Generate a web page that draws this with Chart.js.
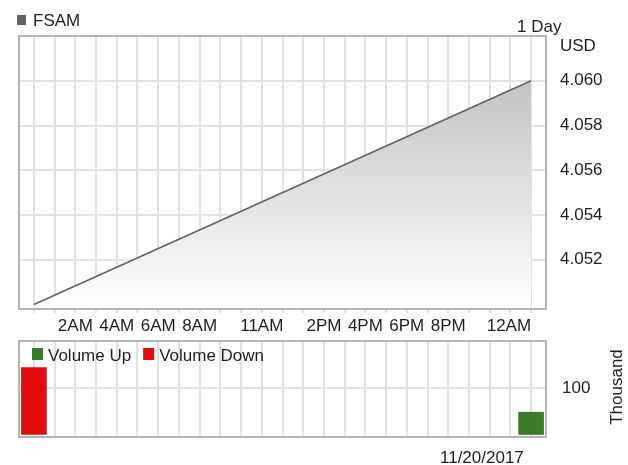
<!DOCTYPE html>
<html>
<head>
<meta charset="utf-8">
<script src="https://cdn.jsdelivr.net/npm/chart.js@4.4.1/dist/chart.umd.min.js"></script>
<style>
  html, body { margin: 0; padding: 0; background: #ffffff; }
  #wrap { position: relative; width: 628px; height: 465px; overflow: hidden; }
  #price { position: absolute; left: 0; top: 0; }
  #volume { position: absolute; left: 0; top: 340px; }
</style>
</head>
<body>
<div id="wrap">
  <canvas id="price" width="628" height="340"></canvas>
  <canvas id="volume" width="628" height="125"></canvas>
</div>
<script>
// ---- chart data ----
const symbol = 'FSAM';
const periodLabel = '1 Day';
const currency = 'USD';
const sessionDate = '11/20/2017';
const volumeUnit = 'Thousand';

// intraday price: hours after midnight -> price (USD)
const priceHours = [0, 24];
const priceValues = [4.050, 4.060];
const priceTicks = [4.052, 4.054, 4.056, 4.058, 4.060];

// labelled hours on the time axis
const labelHours = [2, 4, 6, 8, 11, 14, 16, 18, 20, 24];
const labelTexts = ['2AM', '4AM', '6AM', '8AM', '11AM', '2PM', '4PM', '6PM', '8PM', '12AM'];

// volume in thousands of shares
const volumeUpHours = [24];
const volumeUpValues = [48];
const volumeDownHours = [0];
const volumeDownValues = [144];
const volumeTicks = [100];

// ---- styling ----
const FONT = "'Liberation Sans', Arial, Helvetica, sans-serif";
const TEXT = '#1e1e1e';
const GRID = '#e2e2e2';
const FRAME = '#b4b4b4';
const LINE = '#626262';
const UP = '#3a7b2b';
const DOWN = '#e00c0c';

Chart.defaults.font.family = FONT;
Chart.defaults.font.size = 17;
Chart.defaults.color = TEXT;

const gridHours = Array.from({ length: 25 }, (_, i) => i);
const X_MIN = -0.72, X_MAX = 24.72;

function hourLabel(v) {
  const i = labelHours.indexOf(v);
  return i >= 0 ? labelTexts[i] : '';
}

// fixed-width value axis with no extra edge padding
function fixValueAxis(scale) {
  scale.width = 82;
  scale.paddingTop = 0;
  scale.paddingBottom = 0;
}

// border round the plotting area
const frame = {
  id: 'frame',
  afterDraw(chart) {
    const a = chart.chartArea, c = chart.ctx;
    c.save();
    c.strokeStyle = FRAME;
    c.lineWidth = 2;
    c.strokeRect(a.left, a.top, a.right - a.left, a.bottom - a.top);
    c.restore();
  }
};

// symbol legend, period and currency captions
const priceCaptions = {
  id: 'priceCaptions',
  afterDraw(chart) {
    const c = chart.ctx;
    c.save();
    c.font = '17px ' + FONT;
    c.fillStyle = LINE;
    c.fillRect(17, 15, 9, 10);
    c.fillStyle = TEXT;
    c.textBaseline = 'alphabetic';
    c.textAlign = 'left';
    c.fillText(chart.data.datasets[0].label, 33, 26);
    c.fillText(periodLabel, 517, 32);
    c.fillText(currency, 560, 51);
    c.restore();
  }
};

// volume legend, unit caption and date
const volumeCaptions = {
  id: 'volumeCaptions',
  afterDraw(chart) {
    const c = chart.ctx;
    c.save();
    c.font = '17px ' + FONT;
    c.textBaseline = 'alphabetic';
    c.textAlign = 'left';
    let x = 32;
    chart.data.datasets.forEach(ds => {
      c.fillStyle = ds.backgroundColor;
      c.fillRect(x, 8, 11, 12);
      c.fillStyle = TEXT;
      c.fillText(ds.label, x + 16, 21);
      x += 16 + c.measureText(ds.label).width + 12;
    });
    c.fillText(sessionDate, 440, 123);
    c.translate(622, 47);
    c.rotate(-Math.PI / 2);
    c.textAlign = 'center';
    c.fillText(volumeUnit, 0, 0);
    c.restore();
  }
};

const timeGrid = { color: GRID, lineWidth: 2, offset: false };

new Chart(document.getElementById('price'), {
  type: 'line',
  data: {
    datasets: [{
      label: symbol,
      data: priceHours.map((h, i) => ({ x: h, y: priceValues[i] })),
      borderColor: LINE,
      borderWidth: 1.6,
      pointRadius: 0,
      tension: 0,
      fill: 'start',
      backgroundColor(ctx) {
        const chart = ctx.chart, area = chart.chartArea;
        if (!area) return 'rgba(0,0,0,0)';
        const top = chart.scales.y.getPixelForValue(Math.max(...priceValues));
        const g = chart.ctx.createLinearGradient(0, top, 0, area.bottom);
        g.addColorStop(0, '#c4c4c4');
        g.addColorStop(1, '#ffffff');
        return g;
      }
    }]
  },
  options: {
    responsive: false,
    animation: false,
    events: [],
    layout: { padding: { left: 19, top: 36, right: 0, bottom: 0 } },
    plugins: { legend: { display: false }, tooltip: { enabled: false } },
    scales: {
      x: {
        type: 'linear',
        offset: false,
        min: X_MIN,
        max: X_MAX,
        afterBuildTicks(scale) { scale.ticks = gridHours.map(v => ({ value: v })); },
        afterFit(scale) { scale.height = 31; },
        grid: { ...timeGrid, drawTicks: true, tickLength: 4 },
        border: { display: false },
        ticks: {
          autoSkip: false,
          maxRotation: 0,
          align: 'inner',
          padding: 3,
          color: TEXT,
          callback: v => hourLabel(v)
        }
      },
      y: {
        type: 'linear',
        position: 'right',
        min: 4.0498,
        max: 4.062,
        afterBuildTicks(scale) { scale.ticks = priceTicks.map(v => ({ value: v })); },
        afterFit: fixValueAxis,
        grid: { color: GRID, lineWidth: 2, drawTicks: false },
        border: { display: false },
        ticks: { padding: 14, color: TEXT, callback: v => v.toFixed(3) }
      }
    }
  },
  plugins: [frame, priceCaptions]
});

new Chart(document.getElementById('volume'), {
  type: 'bar',
  data: {
    datasets: [
      {
        label: 'Volume Up',
        data: volumeUpHours.map((h, i) => ({ x: h, y: volumeUpValues[i] })),
        backgroundColor: UP
      },
      {
        label: 'Volume Down',
        data: volumeDownHours.map((h, i) => ({ x: h, y: volumeDownValues[i] })),
        backgroundColor: DOWN
      }
    ]
  },
  options: {
    responsive: false,
    animation: false,
    events: [],
    layout: { padding: { left: 19, top: 1, right: 0, bottom: 0 } },
    plugins: { legend: { display: false }, tooltip: { enabled: false } },
    datasets: { bar: { grouped: false, barThickness: 25, borderWidth: 0 } },
    scales: {
      x: {
        type: 'linear',
        offset: false,
        min: X_MIN,
        max: X_MAX,
        afterBuildTicks(scale) { scale.ticks = gridHours.map(v => ({ value: v })); },
        afterFit(scale) { scale.height = 28; scale.paddingLeft = 0; scale.paddingRight = 0; },
        grid: { ...timeGrid, drawTicks: false },
        border: { display: false },
        ticks: { display: false }
      },
      y: {
        type: 'linear',
        position: 'right',
        min: -5.4,
        max: 201,
        afterBuildTicks(scale) { scale.ticks = volumeTicks.map(v => ({ value: v })); },
        afterFit: fixValueAxis,
        grid: { color: GRID, lineWidth: 2, drawTicks: false },
        border: { display: false },
        ticks: { padding: 16, color: TEXT }
      }
    }
  },
  plugins: [frame, volumeCaptions]
});
</script>
</body>
</html>
